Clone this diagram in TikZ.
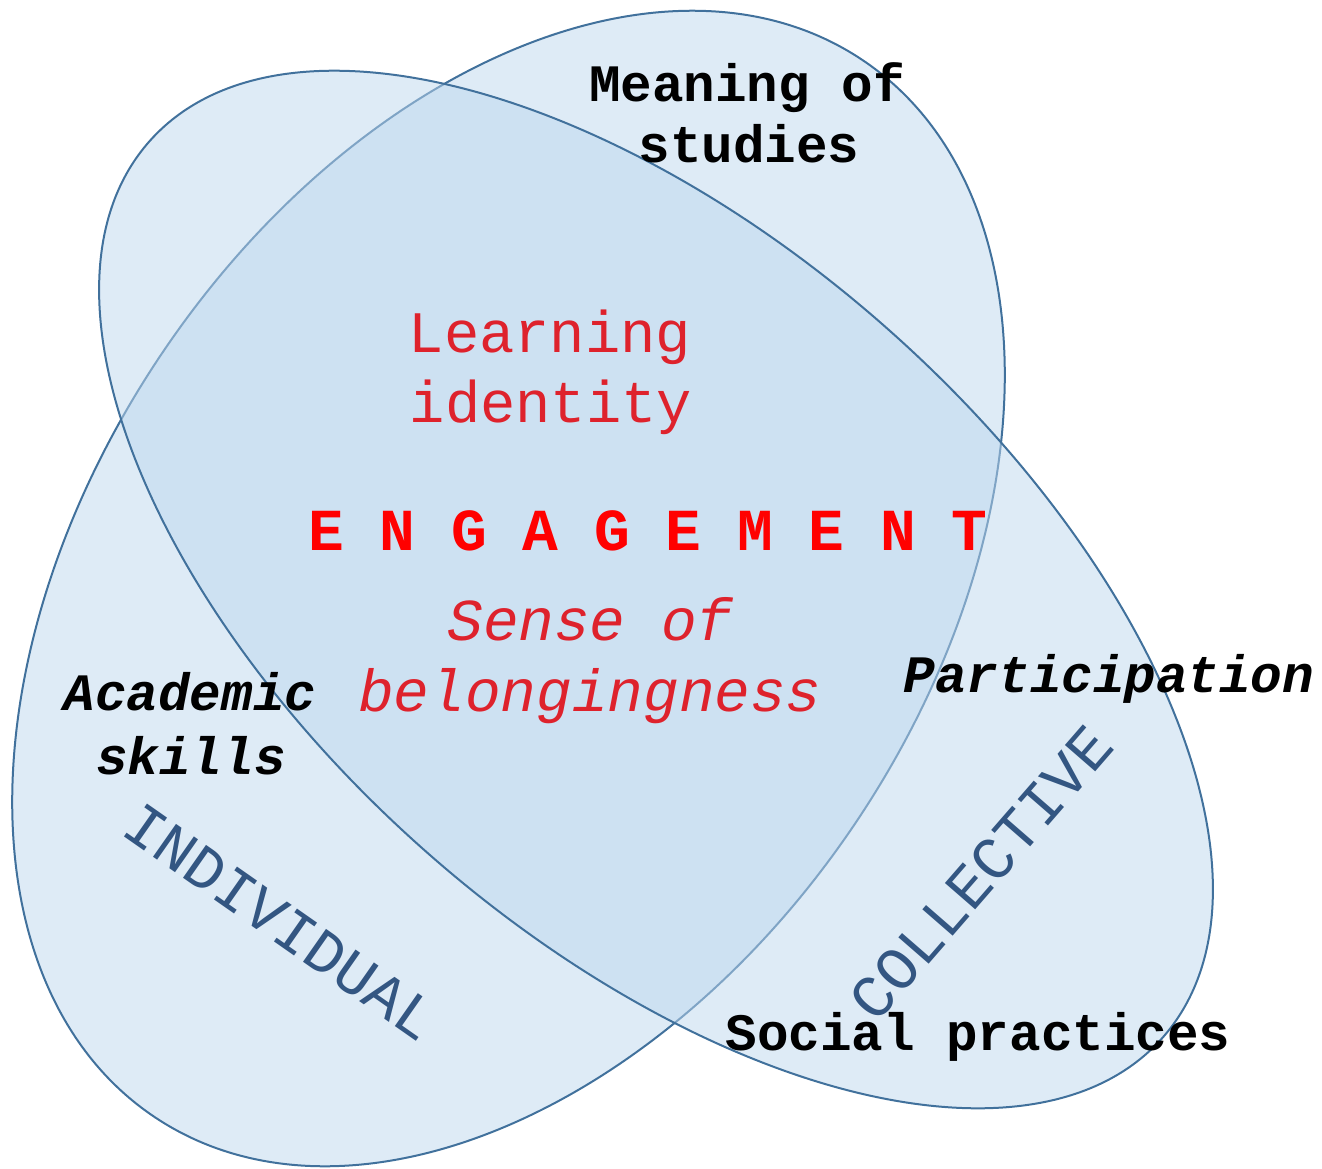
\documentclass[tikz,border=0pt]{standalone}
\usepackage{fontspec}
\newfontfamily\cour{Liberation Mono}
\definecolor{blobfill}{RGB}{189,215,238}
\definecolor{blobline}{RGB}{65,113,156}
\definecolor{sidetext}{RGB}{51,86,130}
\definecolor{softred}{RGB}{222,34,44}
\begin{document}
\begin{tikzpicture}[x=0.5pt,y=-0.5pt,
  region/.style={fill=blobfill, fill opacity=0.5, draw=blobline, line width=1pt},
  blacklabel/.style={inner sep=0, anchor=base, text=black,
    font=\cour\bfseries\fontsize{26.3}{30}\selectfont},
  blackitalic/.style={blacklabel,
    font=\cour\bfseries\itshape\fontsize{26.3}{30}\selectfont},
  redthin/.style={inner sep=0, anchor=base, text=softred,
    font=\cour\fontsize{29.4}{34}\selectfont},
  reditalic/.style={redthin, font=\cour\itshape\fontsize{29.7}{34}\selectfont},
  engage/.style={inner sep=0, anchor=base, text=red,
    font=\cour\bfseries\fontsize{29.8}{34}\selectfont},
  sidelabel/.style={inner sep=0, anchor=center, text=sidetext,
    font=\cour\fontsize{30.5}{34}\selectfont}]
\useasboundingbox (0,0) rectangle (1322,1168);

% the two overlapping regions
\path[region, rotate around={56.2:(508.5,588.5)}]
  (508.5,588.5) ellipse [x radius=636.1, y radius=418.8];
\path[region, rotate around={-41.5:(656,589.5)}]
  (656,589.5) ellipse [x radius=676.4, y radius=348.7];

% labels
\node[blacklabel] (meaning) at (747,101) {Meaning of};
\node[blacklabel] (studies) at (749,162) {studies};
\node[redthin] (learning) at (550,352) {Learning};
\node[redthin] (identity) at (551,422) {identity};
\node[engage] (engagement) at (648,550) {E N G A G E M E N T};
\node[reditalic] (sense) at (590,640) {Sense of};
\node[reditalic] (belong) at (590,711) {belongingness};
\node[blackitalic] (academic) at (190,710) {Academic};
\node[blackitalic] (skills) at (191,774) {skills};
\node[blackitalic] (participation) at (1109,692) {Participation};
\node[blacklabel] (social) at (978,1050) {Social practices};
\node[sidelabel, rotate=-35] (individual) at (281,922) {INDIVIDUAL};
\node[sidelabel, rotate=49] (collective) at (981,873) {COLLECTIVE};
\end{tikzpicture}
\end{document}
